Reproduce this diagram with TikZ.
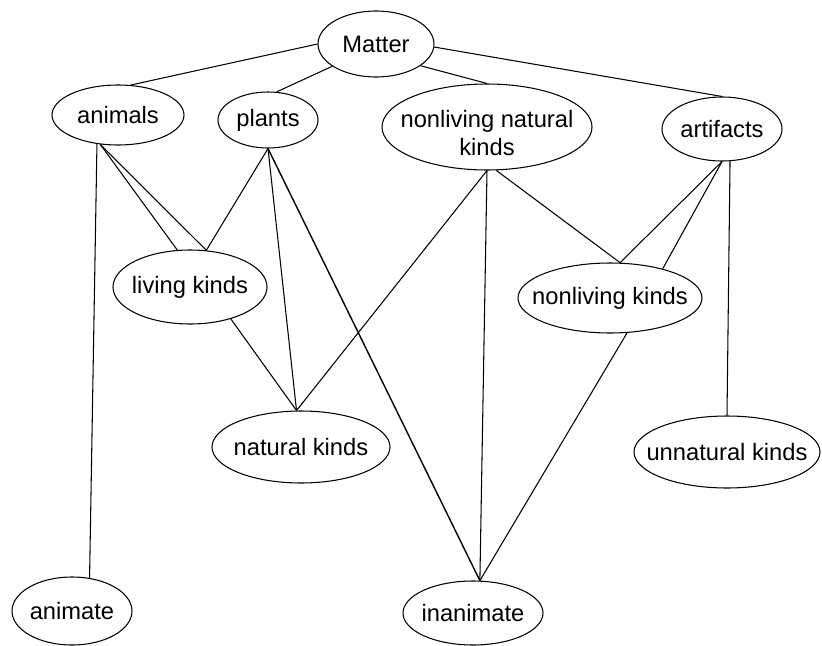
\documentclass[tikz,border=0pt]{standalone}
\usepackage{fontspec}
\setmainfont{Liberation Sans}
\usetikzlibrary{shapes}
\tikzstyle{kind}=[ellipse,draw,semithick,inner sep=0pt]
\tikzstyle{rel}=[semithick]

\begin{document}
\begin{tikzpicture}[x=0.2mm,y=-0.2mm,font=\fontsize{13.5}{16}\selectfont]
  % 画布大小与原图一致
  \useasboundingbox (0,0) rectangle (822,646);
  % 直接指定位置,文字用 label 放在椭圆中心
  \node[kind,minimum width=23.2mm,minimum height=13.2mm,label=center:Matter] (matter) at (376,44) {};
  \node[kind,minimum width=26.4mm,minimum height=12mm,label=center:animals] (animals) at (118,115) {};
  \node[kind,minimum width=20mm,minimum height=11.2mm,label=center:plants] (plants) at (268,120) {};
  \node[kind,minimum width=42mm,minimum height=17.2mm,label={[align=center,yshift=-1.2mm]center:nonliving natural\\kinds}] (nnk) at (487,127) {};
  \node[kind,minimum width=24mm,minimum height=12.8mm,label=center:artifacts] (artifacts) at (722,129) {};
  \node[kind,minimum width=30.8mm,minimum height=14.8mm,label=center:living kinds] (living) at (190,287) {};
  \node[kind,minimum width=36.8mm,minimum height=14mm,label=center:nonliving kinds] (nonliving) at (610,298) {};
  \node[kind,minimum width=35.6mm,minimum height=14.4mm,label=center:natural kinds] (natural) at (301,447) {};
  \node[kind,minimum width=37.2mm,minimum height=14.4mm,label=center:unnatural kinds] (unnatural) at (727,452) {};
  \node[kind,minimum width=24mm,minimum height=13.6mm,label=center:animate] (animate) at (72,611) {};
  \node[kind,minimum width=28mm,minimum height=12.8mm,label=center:inanimate] (inanimate) at (473,613) {};
  % 连线
  \draw[rel] (matter.west)--(animals.67);
  \draw[rel] (matter.207)--(plants.73);
  \draw[rel] (matter.334)--(nnk.north);
  \draw[rel] (matter.357)--(artifacts.north);
  \draw[rel] (animals.234)--(animate.62);
  \draw[rel] (animals.239)--(living.109);
  \draw[rel] (animals.239)--(living.66);
  \draw[rel] (plants.south)--(living.66);
  \draw[rel] (plants.south)--(natural.97);
  \draw[rel,thick] (plants.south)--(inanimate.78);
  \draw[rel] (living.322)--(natural.97);
  \draw[rel] (nnk.south)--(natural.97);
  \draw[rel] (nnk.south)--(inanimate.78);
  \draw[rel] (nnk.282)--(nonliving.74);
  \draw[rel] (artifacts.south)--(nonliving.74);
  \draw[rel] (artifacts.south)--(nonliving.29);
  \draw[rel] (artifacts.284)--(unnatural.north);
  \draw[rel] (nonliving.296)--(inanimate.78);
\end{tikzpicture}
\end{document}
